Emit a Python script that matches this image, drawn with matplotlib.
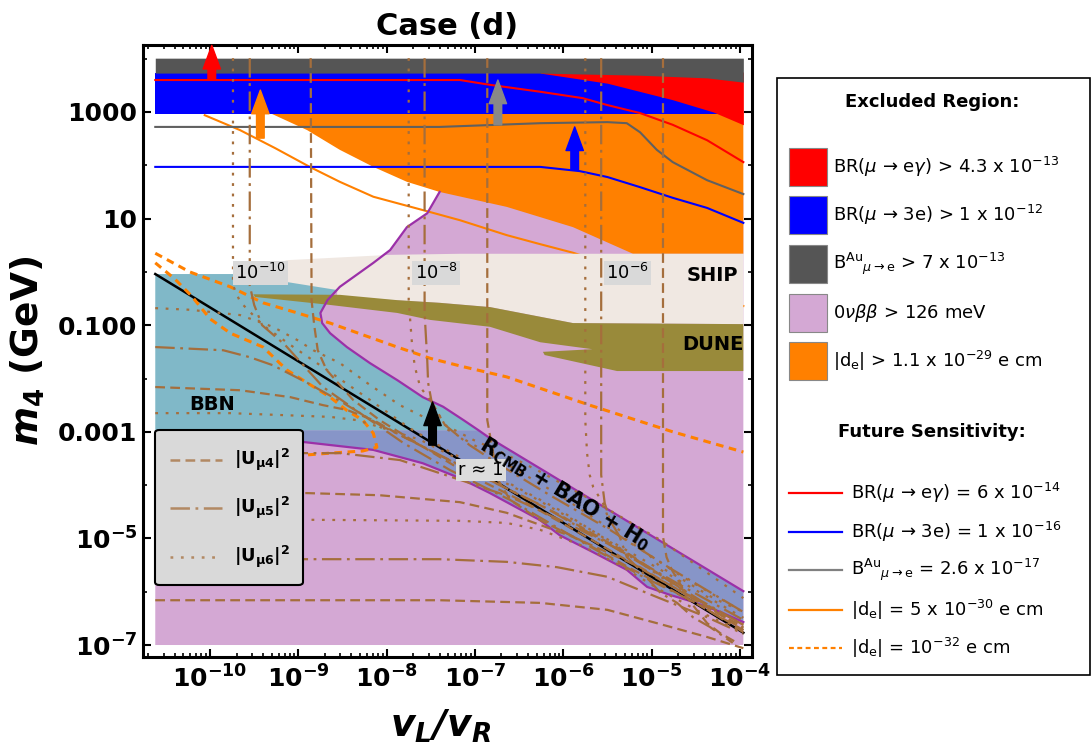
import numpy as np
import matplotlib
matplotlib.use("Agg")
import matplotlib.pyplot as plt
from matplotlib.patches import Rectangle, FancyBboxPatch
from matplotlib.lines import Line2D

plt.rcParams['font.family'] = ['DejaVu Sans']
plt.rcParams['mathtext.fontset'] = 'dejavusans'
plt.rcParams['lines.scale_dashes'] = False

# ---------------- data (log10 units: X = log10(vL/vR), Y = log10(m4/GeV)) ----------------
X_LO, X_HI = -10.62, -3.96
Y_LO, Y_HI = -7.0, 4.01

# excluded regions
GRAY_X = [-10.62, -6.26, -5.13, -4.37, -3.96]
GRAY_LO = [3.73, 3.73, 3.69, 3.64, 3.56]
BLUE_LO, BLUE_HI = 2.96, 3.74
RED_X = [-6.26, -5.50, -4.76, -4.30, -3.96]
RED_LO = [3.73, 3.54, 3.23, 3.00, 2.76]
ORANGE_X = [-9.32, -3.96, -3.96, -5.21, -5.89, -6.64, -7.40, -7.77, -8.15, -8.53, -8.90]
ORANGE_Y = [2.98, 2.98, 0.34, 0.34, 0.84, 1.22, 1.50, 1.69, 1.97, 2.29, 2.66]

# 0vbb boundary (nose) and cosmology band
NOSE_X = [-7.40, -7.54, -7.77, -7.96, -8.15, -8.53, -8.67, -8.75, -8.73, -8.64, -8.45, -8.19, -7.88, -7.59, -7.36, -7.13, -6.96]
NOSE_Y = [1.50, 1.10, 0.84, 0.41, 0.17, -0.28, -0.53, -0.77, -0.96, -1.15, -1.41, -1.71, -2.03, -2.35, -2.53, -2.78, -2.97]
BAND_UP_X = [-6.96, -6.83, -6.26, -5.13, -3.96]
BAND_UP_Y = [-2.97, -3.12, -3.69, -4.82, -5.99]
BAND_LO_X = [-10.62, -9.77, -8.95, -8.15, -7.59, -7.17, -6.83, -6.26, -6.04, -5.66, -5.28, -5.05, -4.79, -4.53, -4.22, -3.96]
BAND_LO_Y = [-3.15, -3.15, -3.19, -3.34, -3.59, -3.87, -4.15, -4.66, -4.94, -5.26, -5.59, -5.91, -6.06, -6.19, -6.38, -6.57]

# BBN
BBN_TOP, BBN_BOT, BBN_TOP_RIGHT = -0.04, -2.97, -8.33

# SHIP / DUNE
SHIP_X = [-9.66, -9.13, -7.96, -7.17, -3.96, -3.96, -5.89, -6.83, -7.40, -8.56, -8.56, -9.13, -9.66]
SHIP_Y = [-0.04, 0.22, 0.32, 0.34, 0.34, -0.98, -0.96, -0.66, -0.58, -0.47, -0.34, -0.19, -0.08]
DUNE_X = [-9.51, -8.53, -7.88, -7.40, -6.83, -5.89, -3.96,
          -3.96, -5.39, -6.21, -6.23, -5.67, -6.26, -6.83, -7.51, -7.88, -8.64, -9.49]
DUNE_Y = [-0.42, -0.43, -0.53, -0.58, -0.66, -0.96, -0.98,
          -1.86, -1.86, -1.56, -1.50, -1.45, -1.32, -1.03, -0.90, -0.77, -0.62, -0.47]

# r ~ 1 line
R1_X = [-10.62, -3.96]
R1_Y = [-0.04, -6.77]

# future sensitivities
RED_LINE_X = [-10.62, -7.17, -6.83, -6.26, -5.78, -5.50, -5.13, -4.76, -4.37, -3.96]
RED_LINE_Y = [3.60, 3.60, 3.51, 3.38, 3.26, 3.13, 2.98, 2.76, 2.47, 2.06]
BLUE_LINE_X = [-10.62, -6.26, -5.81, -5.50, -5.13, -4.76, -4.37, -3.96]
BLUE_LINE_Y = [1.97, 1.97, 1.89, 1.78, 1.59, 1.39, 1.20, 0.92]
GRAY_LINE_X = [-10.62, -7.40, -6.26, -5.50, -5.28, -5.13, -4.94, -4.76, -4.37, -3.96]
GRAY_LINE_Y = [2.72, 2.72, 2.79, 2.81, 2.79, 2.62, 2.29, 2.06, 1.72, 1.46]
DE_SOLID_X = [-10.06, -9.66, -9.26, -8.87, -8.53, -8.15, -7.59, -7.17, -6.64, -6.26, -5.89, -5.02, -3.96]
DE_SOLID_Y = [2.94, 2.66, 2.32, 1.97, 1.69, 1.41, 1.16, 0.97, 0.69, 0.52, 0.36, -0.11, -0.64]
DE_DASH1_X = [-10.62, -10.23, -9.77, -9.40, -9.01, -8.64, -8.27, -7.88, -7.51, -7.13, -6.64, -5.70, -4.76, -3.96]
DE_DASH1_Y = [0.35, 0.00, -0.28, -0.58, -0.77, -0.96, -1.18, -1.41, -1.62, -1.78, -1.97, -2.50, -3.00, -3.38]
DE_DASH2_X = [-10.62, -10.40, -10.21, -10.00, -9.77, -9.40, -9.13, -8.90, -8.64, -8.45, -8.27, -8.15, -8.11, -8.27, -8.64, -8.95]
DE_DASH2_Y = [0.17, -0.13, -0.45, -0.88, -1.15, -1.41, -1.84, -2.08, -2.35, -2.60, -2.78, -3.03, -3.29, -3.36, -3.40, -3.44]

# |U|^2 contours (brown)
A_DOT_X = [-9.74, -9.74, -9.66, -9.40, -9.09, -8.64, -8.19, -7.74, -7.28, -6.72, -6.04, -5.36, -4.68, -3.96]
A_DOT_Y = [4.01, -0.25, -0.56, -1.00, -1.37, -1.88, -2.40, -2.93, -3.38, -3.87, -4.47, -5.18, -5.97, -6.68]
A_DD_X = [-9.55, -9.55, -9.50, -9.41, -9.15, -8.72, -8.30, -7.81, -7.28, -6.60, -5.92, -5.13, -4.45, -3.96]
A_DD_Y = [4.01, -0.25, -0.62, -1.00, -1.37, -2.16, -2.65, -3.21, -3.72, -4.28, -4.94, -5.69, -6.25, -6.76]
A_DASH_X = [-8.86, -8.85, -8.82, -8.78, -8.68, -8.38, -8.08, -7.62, -7.06, -6.38, -5.58, -4.90, -3.96]
A_DASH_Y = [4.01, -0.53, -1.00, -1.47, -1.84, -2.40, -2.78, -3.25, -3.81, -4.37, -5.12, -5.78, -6.62]
B_DOT_X = [-7.75, -7.75, -7.71, -7.68, -7.62, -7.51, -7.34, -7.02, -6.64, -6.26, -5.58, -4.90, -3.96]
B_DOT_Y = [4.01, -0.53, -1.41, -1.78, -2.16, -2.40, -2.87, -3.15, -3.43, -3.75, -4.37, -5.03, -6.12]
B_DD_X = [-7.57, -7.57, -7.54, -7.53, -7.49, -7.34, -7.06, -6.72, -6.15, -5.47, -4.79, -3.96]
B_DD_Y = [4.01, -0.77, -1.65, -2.08, -2.44, -2.87, -3.25, -3.62, -4.19, -4.84, -5.56, -6.38]
B_DASH_X = [-6.86, -6.86, -6.80, -6.74, -6.60, -6.26, -5.81, -5.24, -4.56, -3.96]
B_DASH_Y = [4.01, -2.78, -3.34, -3.90, -4.28, -4.66, -5.03, -5.56, -6.16, -6.72]
C_DOT_X = [-5.75, -5.75, -5.73, -5.70, -5.66, -5.55, -5.47, -5.32, -5.05, -4.90, -4.64, -4.30, -3.96]
C_DOT_Y = [4.01, -2.78, -3.40, -3.81, -4.04, -4.34, -4.71, -4.90, -5.27, -5.54, -5.78, -6.12, -6.38]
C_DD_X = [-5.57, -5.57, -5.53, -5.47, -5.36, -5.28, -5.13, -4.90, -4.71, -4.53, -4.34, -4.08]
C_DD_Y = [4.01, -3.81, -4.34, -4.66, -4.97, -5.35, -5.59, -6.02, -6.21, -6.48, -6.66, -6.96]
C_DASH_X = [-4.87, -4.87, -4.83, -4.77, -4.68, -4.60, -4.49, -4.37, -4.22, -4.03]
C_DASH_Y = [4.01, -4.97, -5.35, -5.59, -5.84, -6.10, -6.34, -6.59, -6.78, -6.96]
H1_X = [-10.62, -10.23, -9.66, -9.29, -9.01, -8.83, -8.53, -8.19, -7.85, -7.40, -6.72, -6.04, -5.36, -4.68, -3.96]
H1_Y = [-0.68, -0.71, -0.81, -1.03, -1.28, -1.47, -1.71, -2.12, -2.50, -2.87, -3.53, -4.19, -4.94, -5.69, -6.38]
H2_X = [-10.62, -9.85, -9.55, -9.29, -8.90, -8.49, -8.08, -7.62, -7.06, -6.26, -5.47, -4.68, -3.96]
H2_Y = [-1.41, -1.47, -1.60, -1.75, -2.08, -2.46, -2.87, -3.25, -3.72, -4.37, -5.12, -5.87, -6.53]
H3_X = [-10.62, -9.66, -9.09, -8.72, -8.45, -8.15, -7.85, -7.40, -6.72, -6.04, -5.24, -4.56, -3.96]
H3_Y = [-2.16, -2.22, -2.35, -2.50, -2.59, -2.78, -3.06, -3.44, -4.00, -4.56, -5.31, -6.06, -6.72]
H4_X = [-10.62, -9.77, -8.64, -8.34, -8.08, -7.62, -7.06, -6.38, -5.58, -4.79, -3.96]
H4_Y = [-2.65, -2.65, -2.72, -2.78, -2.91, -3.15, -3.62, -4.19, -4.94, -5.69, -6.49]
H5_X = [-10.62, -8.95, -8.53, -7.85, -7.17, -6.60, -6.04, -5.47, -4.90, -4.45, -3.96]
H5_Y = [-3.38, -3.40, -3.40, -3.53, -3.90, -4.22, -4.65, -5.12, -5.69, -6.16, -6.62]
H6_X = [-10.62, -8.90, -8.08, -7.17, -6.64, -5.89, -5.13, -4.76, -4.37, -3.96]
H6_Y = [-4.13, -4.15, -4.19, -4.32, -4.52, -4.97, -5.54, -5.91, -6.29, -6.66]
H7_X = [-10.62, -8.95, -7.17, -6.64, -6.26, -5.81, -5.36, -4.90, -4.45, -3.96]
H7_Y = [-4.65, -4.65, -4.67, -4.71, -4.84, -5.12, -5.50, -5.97, -6.38, -6.76]
H8_X = [-10.62, -7.40, -6.64, -6.07, -5.50, -4.94, -4.37, -3.96]
H8_Y = [-5.39, -5.39, -5.44, -5.54, -5.72, -6.10, -6.48, -6.79]
H9_X = [-10.62, -7.40, -6.26, -5.50, -4.94, -4.37, -3.96]
H9_Y = [-6.16, -6.16, -6.21, -6.34, -6.59, -6.85, -7.06]

# arrows (x, tail y, tip y)
ARROW_X = [-9.98, -9.43, -6.74, -5.87, -7.48]
ARROW_TAIL = [3.60, 2.51, 2.76, 1.91, -3.25]
ARROW_TIP = [4.25, 3.41, 3.60, 2.72, -2.44]
ARROW_COLORS = ['#FF0000', '#FF8000', '#888888', '#0000FF', '#000000']

# axis ticks
X_TICKS = [-10, -9, -8, -7, -6, -5, -4]
X_TICK_LABELS = [r'$\mathbf{10^{-10}}$', r'$\mathbf{10^{-9}}$', r'$\mathbf{10^{-8}}$', r'$\mathbf{10^{-7}}$',
                 r'$\mathbf{10^{-6}}$', r'$\mathbf{10^{-5}}$', r'$\mathbf{10^{-4}}$']
Y_TICKS = [3, 1, -1, -3, -5, -7]
Y_TICK_LABELS = ['1000', '10', '0.100', '0.001', r'$\mathbf{10^{-5}}$', r'$\mathbf{10^{-7}}$']
Y_MINOR = [4, 2, 0, -2, -4, -6]

# legend texts
EXCL_LABELS = [r'BR($\mu$ → e$\gamma$) > 4.3 x 10$^{-13}$',
               r'BR($\mu$ → 3e) > 1 x 10$^{-12}$',
               r'B$^{\rm Au}{}_{\mu \rightarrow {\rm e}}$ > 7 x 10$^{-13}$',
               r'0$\nu\beta\beta$ > 126 meV',
               r'|d$_{\rm e}$| > 1.1 x 10$^{-29}$ e cm']
EXCL_COLORS = ['#FF0000', '#0000FF', '#555555', '#D4A8D4', '#FF8000']
FUT_LABELS = [r'BR($\mu$ → e$\gamma$) = 6 x 10$^{-14}$',
              r'BR($\mu$ → 3e) = 1 x 10$^{-16}$',
              r'B$^{\rm Au}{}_{\mu \rightarrow {\rm e}}$ = 2.6 x 10$^{-17}$',
              r'|d$_{\rm e}$| = 5 x 10$^{-30}$ e cm',
              r'|d$_{\rm e}$| = 10$^{-32}$ e cm']
FUT_COLORS = ['#FF0000', '#0000FF', '#808080', '#FF8000', '#FF8000']
U_LABELS = [r'$\mathbf{|U_{\mu 4}|^{2}}$', r'$\mathbf{|U_{\mu 5}|^{2}}$', r'$\mathbf{|U_{\mu 6}|^{2}}$']

# ---------------- styling ----------------
C_PURPLE = '#D4A8D4'
C_BBN = '#80B8C8'
C_BAND = '#8795C8'
C_SHIP = '#F0E8E2'
C_DUNE = '#998A3A'
C_EDGE = '#9B30A8'
C_BROWN = '#A56E3C'
DASH = (0, (7.0, 3.8))
DASHDOT = (0, (14, 4, 2, 4))
DOT = (0, (2.0, 5.5))


def P(a):
    return 10.0 ** np.asarray(a, dtype=float)


W, H = 1092, 752
fig = plt.figure(figsize=(W / 100, H / 100), dpi=100)
ax = fig.add_axes([143 / W, 1 - 657 / H, 609 / W, 612 / H])
ax.set_xscale('log')
ax.set_yscale('log')

# purple 0vbb region
nose = list(zip(NOSE_X, NOSE_Y))
pur = [nose[0], (X_HI, NOSE_Y[0]), (X_HI, Y_LO), (X_LO, Y_LO), (X_LO, BBN_BOT)] + nose[::-1]
ax.fill(P([p[0] for p in pur]), P([p[1] for p in pur]), color=C_PURPLE, lw=0, zorder=1)

# cosmology band
band = [(X_LO, BBN_BOT)] + list(zip(BAND_UP_X, BAND_UP_Y)) + list(zip(BAND_LO_X, BAND_LO_Y))[::-1]
ax.fill(P([p[0] for p in band]), P([p[1] for p in band]), color=C_BAND, lw=0, zorder=2)

# BBN
bbn = [(X_LO, BBN_TOP), (BBN_TOP_RIGHT, BBN_TOP)] + [p for p in nose if p[1] < BBN_TOP] + [(X_LO, BBN_BOT)]
ax.fill(P([p[0] for p in bbn]), P([p[1] for p in bbn]), color=C_BBN, lw=0, zorder=3)

# orange EDM region
ax.fill(P(ORANGE_X), P(ORANGE_Y), color='#FF8000', lw=0, zorder=4)
# blue, red, gray
ax.fill_between(P([X_LO, X_HI]), P(BLUE_LO), P(BLUE_HI), color='#0000FF', lw=0, zorder=5)
ax.fill_between(P(RED_X), P(RED_LO), P(3.75), color='#FF0000', lw=0, zorder=6)
ax.fill_between(P(GRAY_X), P(GRAY_LO), P(Y_HI), color='#555555', lw=0, zorder=7)

# orange solid future line (under SHIP)
ax.plot(P(DE_SOLID_X), P(DE_SOLID_Y), color='#FF8000', lw=1.5, zorder=8)

# SHIP / DUNE
ax.fill(P(SHIP_X), P(SHIP_Y), color=C_SHIP, lw=0, zorder=9)
ax.fill(P(DUNE_X), P(DUNE_Y), color=C_DUNE, lw=0, zorder=9.5)

# boundaries
ax.plot(P(NOSE_X + BAND_UP_X[1:]), P(NOSE_Y + BAND_UP_Y[1:]), color=C_EDGE, lw=1.6, zorder=10)
ax.plot(P(BAND_LO_X), P(BAND_LO_Y), color=C_EDGE, lw=1.6, zorder=10)
ax.plot(P(R1_X), P(R1_Y), color='black', lw=1.8, zorder=11)

# dashed orange
ax.plot(P(DE_DASH1_X), P(DE_DASH1_Y), color='#FF8000', lw=2.2, ls=(0, (5.5, 4)), zorder=12)
ax.plot(P(DE_DASH2_X), P(DE_DASH2_Y), color='#FF8000', lw=2.2, ls=(0, (5.5, 4)), zorder=12)

# future lines
ax.plot(P(RED_LINE_X), P(RED_LINE_Y), color='#FF0000', lw=1.5, zorder=13)
ax.plot(P(BLUE_LINE_X), P(BLUE_LINE_Y), color='#0000FF', lw=1.5, zorder=13)
ax.plot(P(GRAY_LINE_X), P(GRAY_LINE_Y), color='#606060', lw=1.5, zorder=13)

# brown contours
brown = [(A_DOT_X, A_DOT_Y, DOT), (A_DD_X, A_DD_Y, DASHDOT), (A_DASH_X, A_DASH_Y, DASH),
         (B_DOT_X, B_DOT_Y, DOT), (B_DD_X, B_DD_Y, DASHDOT), (B_DASH_X, B_DASH_Y, DASH),
         (C_DOT_X, C_DOT_Y, DOT), (C_DD_X, C_DD_Y, DASHDOT), (C_DASH_X, C_DASH_Y, DASH),
         (H1_X, H1_Y, DOT), (H2_X, H2_Y, DASHDOT), (H3_X, H3_Y, DASH), (H4_X, H4_Y, DOT),
         (H5_X, H5_Y, DASHDOT), (H6_X, H6_Y, DASH), (H7_X, H7_Y, DOT), (H8_X, H8_Y, DASHDOT),
         (H9_X, H9_Y, DASH)]
for bx, by, st in brown:
    ax.plot(P(bx), P(by), color=C_BROWN, lw=1.6, ls=st, zorder=14)

# arrows
for axx, t0, t1, c in zip(ARROW_X, ARROW_TAIL, ARROW_TIP, ARROW_COLORS):
    ax.annotate('', xy=(P(axx), P(t1)), xytext=(P(axx), P(t0)),
                arrowprops=dict(facecolor=c, edgecolor=c, width=5.5, headwidth=12.5,
                                headlength=17, shrink=0), zorder=15, annotation_clip=False)

# labels on plot
box = dict(boxstyle='square,pad=0.12', fc='#D9D9D9', ec='none')
for lx, txt in zip([-9.43, -7.44, -5.27], [r'10$^{-10}$', r'10$^{-8}$', r'10$^{-6}$']):
    ax.text(P(lx), P(-0.02), txt, fontsize=13, ha='center', va='center', bbox=box, zorder=16)
ax.text(P(-6.93), P(-3.72), r'r ≈ 1', fontsize=13, ha='center', va='center',
        bbox=dict(boxstyle='square,pad=0.12', fc='#DCDCDC', ec='none'), zorder=16)
ax.text(P(-4.31), P(-0.06), 'SHIP', fontsize=14, fontweight='bold', ha='center', va='center', zorder=16)
ax.text(P(-4.31), P(-1.37), 'DUNE', fontsize=14, fontweight='bold', ha='center', va='center', zorder=16)
ax.text(P(-9.98), P(-2.48), 'BBN', fontsize=14, fontweight='bold', ha='center', va='center', zorder=16)
ax.text(P(-5.98), P(-4.17), r'$\mathbf{R_{CMB}}$ + BAO + $\mathbf{H_0}$', fontsize=15,
        fontweight='bold', ha='center', va='center', rotation=-31.3, rotation_mode='anchor', zorder=16)

# axes formatting
ax.set_xlim(P(-10.759), P(-3.862))
ax.set_ylim(P(-7.225), P(4.257))
ax.set_xticks(P(X_TICKS))
ax.set_xticklabels(X_TICK_LABELS)
ax.xaxis.set_minor_locator(matplotlib.ticker.LogLocator(base=10, subs=np.arange(2, 10), numticks=100))
ax.xaxis.set_minor_formatter(matplotlib.ticker.NullFormatter())
ax.set_yticks(P(Y_TICKS))
ax.set_yticklabels(Y_TICK_LABELS)
ax.yaxis.set_minor_locator(matplotlib.ticker.FixedLocator(P(Y_MINOR)))
ax.yaxis.set_minor_formatter(matplotlib.ticker.NullFormatter())
ax.tick_params(which='both', direction='in', top=True, right=True, labelsize=18)
ax.tick_params(which='major', length=6, width=1.5)
ax.tick_params(which='minor', length=3, width=1.2)
ax.tick_params(axis='x', pad=6)
ax.tick_params(axis='y', pad=4)
for lbl in ax.get_xticklabels() + ax.get_yticklabels():
    lbl.set_fontweight('bold')
for sp in ax.spines.values():
    sp.set_linewidth(2.2)

ax.set_title('Case (d)', fontsize=22, fontweight='bold', pad=7)
ax.set_xlabel(r'$\mathbfit{v_L/v_R}$', fontsize=27)
ax.xaxis.set_label_coords(0.489, -0.083)
ax.xaxis.label.set_va('top')
ax.set_ylabel(r'$\mathbfit{m}_{\mathbf{4}}$ (GeV)', fontsize=27, fontweight='bold')
ax.yaxis.set_label_coords(-0.158, 0.5)


def fx(px):
    return px / W


def fy(py):
    return 1 - py / H


# inner legend for |U|^2
fig.add_artist(FancyBboxPatch((fx(155), fy(585)), fx(303) - fx(155), fy(430) - fy(585),
                              boxstyle='round,pad=0,rounding_size=0.004', transform=fig.transFigure,
                              fc='#D9D9D9', ec='black', lw=1.5, zorder=20))
for yy, st, lab in zip([460, 508, 557], [DASH, DASHDOT, DOT], U_LABELS):
    fig.add_artist(Line2D([fx(170), fx(222)], [fy(yy), fy(yy)], transform=fig.transFigure,
                          color=C_BROWN, alpha=0.75, lw=1.8, ls=st, zorder=21))
    fig.text(fx(234), fy(yy), lab, fontsize=13, va='center', ha='left', zorder=21)

# outer legend
fig.add_artist(Rectangle((fx(777), fy(675)), fx(1090) - fx(777), fy(78) - fy(675),
                         transform=fig.transFigure, fc='white', ec='black', lw=1.2, zorder=20))
fig.text(fx(932), fy(102), 'Excluded Region:', fontsize=13, fontweight='bold', ha='center', va='center', zorder=21)
for yy, c, lab in zip([167, 215, 264, 313, 361], EXCL_COLORS, EXCL_LABELS):
    fig.add_artist(Rectangle((fx(789), fy(yy + 19)), fx(827) - fx(789), fy(yy - 19) - fy(yy + 19),
                             transform=fig.transFigure, fc=c, ec='#888888', lw=0.8, zorder=21))
    fig.text(fx(833), fy(yy), lab, fontsize=13, ha='left', va='center', zorder=21)
fig.text(fx(932), fy(432), 'Future Sensitivity:', fontsize=13, fontweight='bold', ha='center', va='center', zorder=21)
for yy, c, lab, st in zip([493, 532, 570, 610, 648], FUT_COLORS, FUT_LABELS,
                          ['-', '-', '-', '-', (0, (3.5, 2.5))]):
    fig.add_artist(Line2D([fx(789), fx(842)], [fy(yy), fy(yy)], transform=fig.transFigure,
                          color=c, lw=1.6, ls=st, zorder=21))
    fig.text(fx(851), fy(yy), lab, fontsize=13, ha='left', va='center', zorder=21)

fig.savefig('out.png', dpi=100)
